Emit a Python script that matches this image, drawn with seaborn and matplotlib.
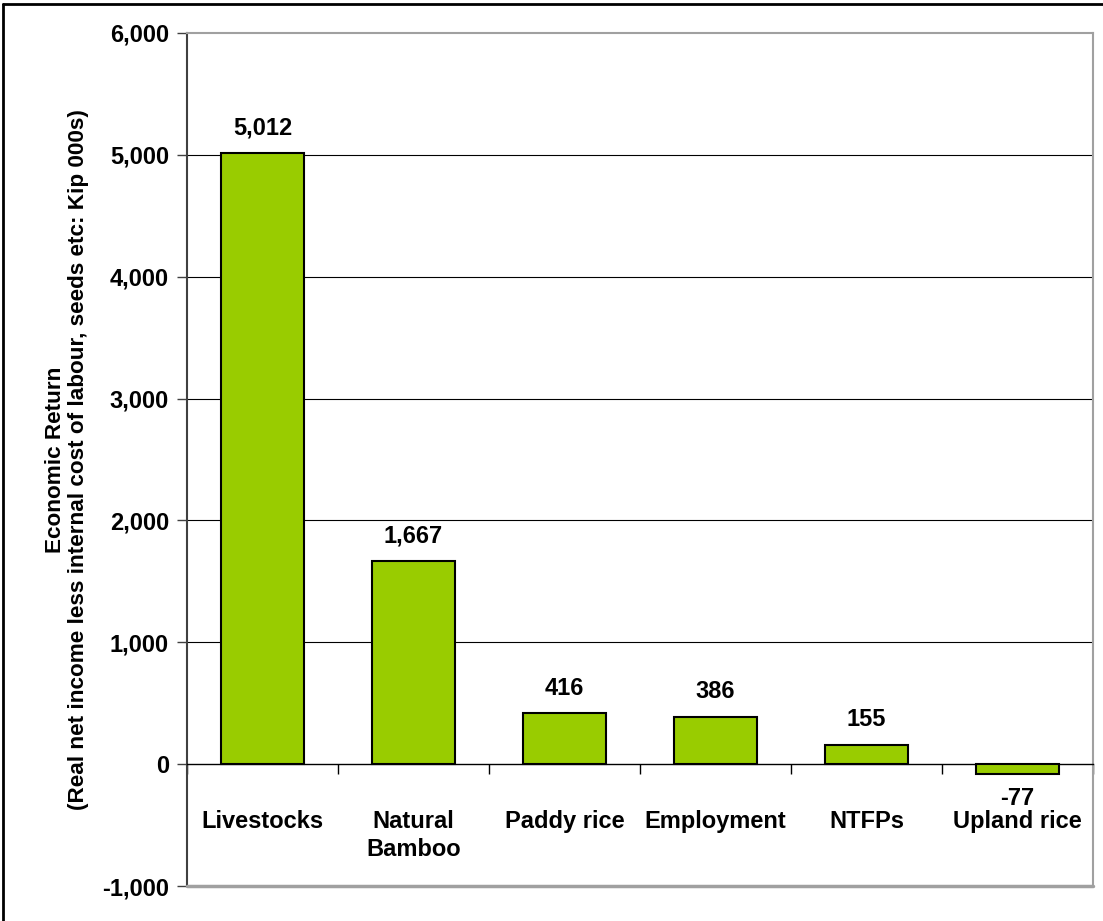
import matplotlib
matplotlib.use("Agg")
import matplotlib.pyplot as plt
import seaborn as sns
import pandas as pd
from matplotlib.ticker import FuncFormatter, FixedLocator
from matplotlib.lines import Line2D

categories = ["Livestocks", "Natural\nBamboo", "Paddy rice", "Employment", "NTFPs", "Upland rice"]
values = [5012, 1667, 416, 386, 155, -77]
yticks = [-1000, 0, 1000, 2000, 3000, 4000, 5000, 6000]

sns.set_theme(style="white")
plt.rcParams["font.family"] = ["Liberation Sans", "DejaVu Sans"]
plt.rcParams["text.color"] = "black"
plt.rcParams["axes.labelcolor"] = "black"
plt.rcParams["xtick.color"] = "black"
plt.rcParams["ytick.color"] = "black"

df = pd.DataFrame({"cat": categories, "val": values})

fig = plt.figure(figsize=(11.03, 9.21), dpi=100)
ax = fig.add_axes([187/1103, 1 - 886/921, (1093-187)/1103, (886-33)/921])

sns.barplot(data=df, x="cat", y="val", color="#99CC00", edgecolor="black",
            linewidth=1.5, width=0.55, saturation=1, ax=ax, zorder=3)

ax.set_ylim(-1000, 6000)
ax.set_xlim(-0.5, len(categories) - 0.5)
ax.yaxis.set_major_locator(FixedLocator(yticks))
ax.yaxis.set_major_formatter(FuncFormatter(lambda v, p: f"{int(v):,}"))

# gridlines for interior ticks only
for y in yticks:
    if yticks[0] < y < yticks[-1] and y != 0:
        ax.axhline(y, color="#000000", lw=0.8, zorder=1)

# spines
ax.spines["bottom"].set_position(("data", 0))
ax.spines["bottom"].set_color("#000000")
ax.spines["bottom"].set_linewidth(1.0)
ax.spines["left"].set_color("#404040")
ax.spines["left"].set_linewidth(1.5)
for s in ["top", "right"]:
    ax.spines[s].set_visible(True)
    ax.spines[s].set_color("#A0A0A0")
    ax.spines[s].set_linewidth(1.5)
ax.axhline(-1000, color="#A0A0A0", lw=2.5, zorder=4, clip_on=False)

# ticks
ax.tick_params(axis="y", which="major", direction="out", length=7, width=1,
               color="#404040", left=True, labelsize=17, pad=6, labelcolor="black")
for lab in ax.get_yticklabels():
    lab.set_fontweight("bold")
ax.set_xticks(range(len(categories)))
ax.set_xticklabels(categories, fontsize=17, fontweight="bold", linespacing=1.3, color="black")
ax.tick_params(axis="x", which="major", length=0, pad=33)
ax.set_xticks([i + 0.5 for i in range(-1, len(categories))], minor=True)
ax.tick_params(axis="x", which="minor", direction="out", length=7, width=1,
               color="#000000", bottom=True)

ax.set_xlabel("")
ax.set_ylabel("Economic Return\n(Real net income less internal cost of labour, seeds etc: Kip 000s)",
              fontsize=16.2, fontweight="bold", linespacing=1.15, labelpad=9, color="black")

# value labels
for cont in ax.containers:
    labs = [f"{v:,}" for v in values]
    ax.bar_label(cont, labels=labs, padding=10, fontsize=17, fontweight="bold", color="black")

# figure border (top and left visible)
fig.add_artist(Line2D([3/1103, 1.0], [1 - 4/921, 1 - 4/921], transform=fig.transFigure,
                      color="black", lw=2))
fig.add_artist(Line2D([3/1103, 3/1103], [0.0, 1 - 4/921], transform=fig.transFigure,
                      color="black", lw=2))

fig.savefig("out.png", dpi=100)
